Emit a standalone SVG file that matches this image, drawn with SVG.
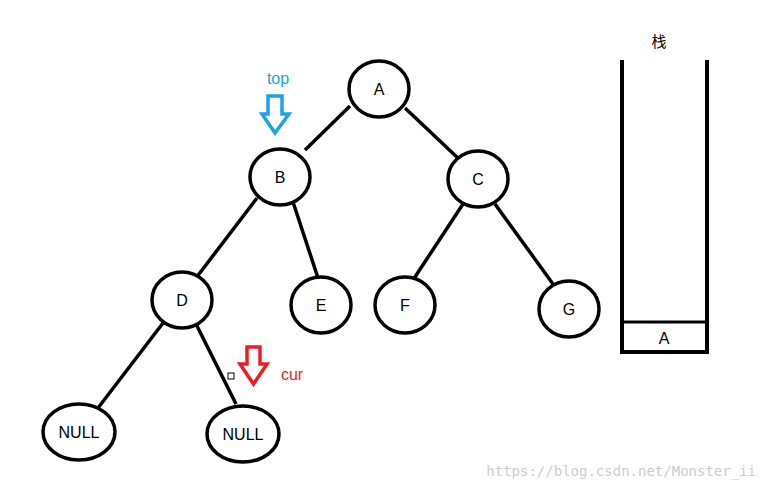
<svg xmlns="http://www.w3.org/2000/svg" width="767" height="491" viewBox="0 0 767 491">
<style>
.n ellipse{fill:#fff;stroke:#000;stroke-width:3.5}
.n text,.t{font-family:"Liberation Sans",Arial,sans-serif;font-size:16px;text-anchor:middle;fill:#000}
#edges line{stroke:#000;stroke-width:3.5}
</style>
<rect width="767" height="491" fill="#fff"/>
<g id="edges">
<line x1="350" y1="106" x2="305" y2="150"/>
<line x1="405" y1="108" x2="460" y2="160"/>
<line x1="257" y1="198" x2="196" y2="278"/>
<line x1="293" y1="202" x2="318" y2="278"/>
<line x1="463" y1="204" x2="413" y2="280"/>
<line x1="495" y1="204" x2="553" y2="284"/>
<line x1="163" y1="323" x2="98" y2="408"/>
<line x1="196" y1="324" x2="236" y2="404"/>
</g>
<g id="A" class="n"><ellipse cx="379" cy="89" rx="30" ry="28"/><text x="379" y="95">A</text></g>
<g id="B" class="n"><ellipse cx="280" cy="177" rx="30" ry="28"/><text x="280" y="183">B</text></g>
<g id="C" class="n"><ellipse cx="478" cy="179" rx="30" ry="28"/><text x="478" y="185">C</text></g>
<g id="D" class="n"><ellipse cx="182" cy="300" rx="30" ry="28"/><text x="182" y="306">D</text></g>
<g id="E" class="n"><ellipse cx="321" cy="305" rx="30" ry="28"/><text x="321" y="311">E</text></g>
<g id="F" class="n"><ellipse cx="405" cy="305" rx="30" ry="28"/><text x="405" y="311">F</text></g>
<g id="G" class="n"><ellipse cx="569" cy="309" rx="30" ry="28"/><text x="569" y="315">G</text></g>
<g id="NULL1" class="n"><ellipse cx="79" cy="432" rx="36" ry="28"/><text x="79" y="438">NULL</text></g>
<g id="NULL2" class="n"><ellipse cx="243" cy="434" rx="36" ry="28"/><text x="243" y="440">NULL</text></g>
<g id="stack">
<path d="M622 60 V352 H707 V60" fill="none" stroke="#000" stroke-width="4"/>
<line x1="622" y1="322" x2="707" y2="322" stroke="#000" stroke-width="3"/>
<text class="t" x="664" y="344">A</text>
<text class="t" x="659" y="47" style="font-family:'Noto Sans CJK SC',sans-serif;font-size:15px">栈</text>
</g>
<g id="top">
<text x="278" y="84" style="font-family:'Liberation Sans',sans-serif;font-size:16px;fill:#1aa3e8;text-anchor:middle">top</text>
<path d="M268 96 H282 V114 H289 L275 133 L262 114 H268 Z" fill="none" stroke="#1aa3e8" stroke-width="3.5"/>
</g>
<g id="cur">
<text x="292" y="380" style="font-family:'Liberation Sans',sans-serif;font-size:16px;fill:#ed1c24;text-anchor:middle">cur</text>
<path d="M247 347 H260 V364 H267 L253.5 384 L240 364 H247 Z" fill="none" stroke="#ed1c24" stroke-width="3.5"/>
<rect x="228" y="373" width="6" height="6" fill="none" stroke="#000" stroke-width="1"/>
</g>
<text x="756" y="476" style="font-family:'DejaVu Sans Mono',monospace;font-size:14px;fill:#ccc;text-anchor:end">https://blog.csdn.net/Monster_ii</text>
</svg>
